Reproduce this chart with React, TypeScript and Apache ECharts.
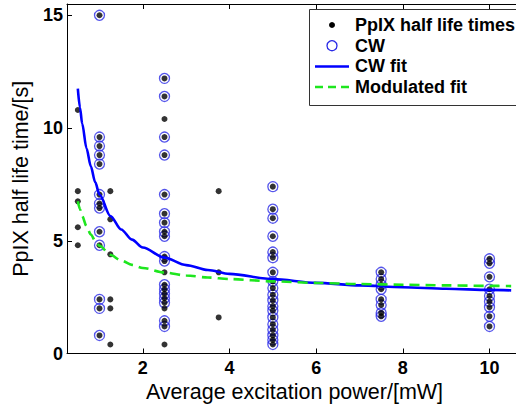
import React, { useEffect, useRef } from "react";
import * as echarts from "echarts";

// Measured PpIX half life times [s] by average excitation power [mW]
const blackOnlyAt0_5 = [10.8, 7.2, 6.75, 5.6, 4.8];
const cwAt1 = [15.0, 9.6, 9.2, 8.8, 8.4, 7.05, 6.65, 6.45, 5.4, 4.8, 2.4, 2.0, 0.8];
const blackOnlyAt1_25 = [7.2, 5.95, 4.4, 2.4, 2.0, 0.4];
const cwAt2_5 = [12.2, 11.4, 9.6, 8.8, 7.05, 6.2, 5.8, 5.4, 5.2, 4.3, 4.1, 3.05, 2.85, 2.65, 2.45, 2.25, 1.45, 1.2];
const blackOnlyAt2_5 = [10.4, 3.6, 2.0, 0.4];
const blackOnlyAt3_75 = [7.2, 3.6, 1.6];
const cwAt5 = [7.4, 6.4, 6.0, 5.2, 4.5, 4.25, 3.6, 3.2, 2.9, 2.6, 2.35, 2.1, 1.9, 1.6, 1.3, 1.05, 0.8, 0.6, 0.4];
const cwAt7_5 = [3.6, 3.3, 3.05, 2.85, 2.4, 2.15, 1.8, 1.65];
const cwAt10 = [4.2, 4.0, 3.4, 2.85, 2.55, 2.3, 2.05, 1.65, 1.2];

// Fit curves
const fitX = [0.5, 0.55, 0.6, 0.7, 0.8, 0.9, 1.0, 1.25, 1.5, 1.75, 2.0, 2.5, 3.0, 3.5, 4.0, 5.0, 6.0, 7.0, 8.0, 9.0, 10.0, 10.5];
const cwFitY = [11.75, 10.9, 10.2, 9.1, 8.3, 7.6, 7.05, 6.1, 5.5, 5.05, 4.7, 4.25, 3.92, 3.7, 3.53, 3.3, 3.13, 3.02, 2.94, 2.87, 2.82, 2.8];
const modFitY = [6.75, 6.4, 6.1, 5.65, 5.28, 5.0, 4.78, 4.38, 4.12, 3.93, 3.79, 3.59, 3.46, 3.37, 3.3, 3.2, 3.13, 3.08, 3.05, 3.02, 3.0, 2.99];

const xTicks = [2, 4, 6, 8, 10];
const yTicks = [0, 5, 10, 15];

const legendNames = ["PpIX half life times", "CW", "CW fit", "Modulated fit"];

const FONT = "'Liberation Sans', Arial, sans-serif";

function pts(x: number, ys: number[]) {
  return ys.map((y) => [x, y]);
}

export default function App() {
  const ref = useRef<HTMLDivElement>(null);
  useEffect(() => {
    if (!ref.current) return;
    const chart = echarts.init(ref.current, undefined, { renderer: "svg" });
    const cwData = [
      ...pts(1, cwAt1),
      ...pts(2.5, cwAt2_5),
      ...pts(5, cwAt5),
      ...pts(7.5, cwAt7_5),
      ...pts(10, cwAt10),
    ];
    const blackData = [
      ...pts(0.5, blackOnlyAt0_5),
      ...pts(1.25, blackOnlyAt1_25),
      ...pts(2.5, blackOnlyAt2_5),
      ...pts(3.75, blackOnlyAt3_75),
      ...cwData,
    ];
    const blue = "#0000ff";
    const ring = "#2a2ae6";
    const green = "#1ee61e";
    const axisCommon = {
      axisLine: { lineStyle: { color: "#000", width: 1 } },
      splitLine: { show: false },
    };
    const legendTop = 25;
    const legendGap = 20.7;
    const mx = 332;
    const graphic: any[] = [
      {
        type: "rect",
        shape: { x: 309.5, y: 9.5, width: 220, height: 96 },
        style: { fill: "#fff", stroke: "#333", lineWidth: 1 },
        z: 100,
      },
      {
        type: "circle",
        shape: { cx: mx, cy: legendTop, r: 3 },
        style: { fill: "#000" },
        z: 101,
      },
      {
        type: "circle",
        shape: { cx: mx, cy: legendTop + legendGap, r: 5 },
        style: { fill: "none", stroke: ring, lineWidth: 1.3 },
        z: 101,
      },
      {
        type: "line",
        shape: { x1: 315, y1: legendTop + 2 * legendGap, x2: 349, y2: legendTop + 2 * legendGap },
        style: { stroke: blue, lineWidth: 2.5 },
        z: 101,
      },
      {
        type: "line",
        shape: { x1: 315, y1: legendTop + 3 * legendGap, x2: 349, y2: legendTop + 3 * legendGap },
        style: { stroke: green, lineWidth: 2.5, lineDash: [8, 5] },
        z: 101,
      },
      ...legendNames.map((n, i) => ({
        type: "text",
        x: 355,
        y: legendTop + i * legendGap,
        style: {
          text: n,
          font: `bold 18px ${FONT}`,
          fill: "#000",
          verticalAlign: "middle",
          align: "left",
        },
        z: 101,
      })),
    ];
    chart.setOption({
      animation: false,
      backgroundColor: "#fff",
      textStyle: { fontFamily: FONT },
      grid: {
        left: 67,
        top: 4,
        width: 455,
        height: 349.5,
        containLabel: false,
        outerBoundsMode: "none",
      },
      xAxis: [
        {
          type: "value",
          min: 0.25,
          max: 10.75,
          ...axisCommon,
          axisTick: { inside: true, length: 5, lineStyle: { color: "#000" }, customValues: xTicks },
          axisLabel: {
            customValues: xTicks,
            color: "#000",
            fontWeight: "bold",
            fontSize: 18,
            fontFamily: FONT,
            margin: 5,
          },
          name: "Average excitation power/[mW]",
          nameLocation: "middle",
          nameGap: 27,
          nameTextStyle: { color: "#000", fontSize: 21.5, fontFamily: FONT },
        },
        {
          type: "value",
          position: "top",
          min: 0.25,
          max: 10.75,
          ...axisCommon,
          axisTick: { inside: true, length: 5, lineStyle: { color: "#000" }, customValues: xTicks },
          axisLabel: { show: false },
        },
      ],
      yAxis: {
        type: "value",
        min: 0,
        max: 15.5,
        ...axisCommon,
        axisTick: { inside: true, length: 5, lineStyle: { color: "#000" }, customValues: yTicks },
        axisLabel: {
          customValues: yTicks,
          color: "#000",
          fontWeight: "bold",
          fontSize: 18,
          fontFamily: FONT,
          margin: 4,
        },
        name: "PpIX half life time/[s]",
        nameLocation: "middle",
        nameGap: 34,
        nameTextStyle: { color: "#000", fontSize: 21.5, fontFamily: FONT },
      },
      series: [
        {
          name: "CW",
          type: "scatter",
          data: cwData,
          symbol: "circle",
          symbolSize: 10,
          itemStyle: { color: "rgba(0,0,0,0)", borderColor: ring, borderWidth: 1.3 },
          z: 2,
        },
        {
          name: "PpIX half life times",
          type: "scatter",
          data: blackData,
          symbol: "circle",
          symbolSize: 6,
          itemStyle: { color: "#000" },
          z: 3,
        },
        {
          name: "CW fit",
          type: "line",
          data: fitX.map((x, i) => [x, cwFitY[i]]),
          showSymbol: false,
          smooth: 0.3,
          smoothMonotone: "x",
          lineStyle: { color: blue, width: 2.6 },
          z: 4,
        },
        {
          name: "Modulated fit",
          type: "line",
          data: fitX.map((x, i) => [x, modFitY[i]]),
          showSymbol: false,
          smooth: 0.3,
          smoothMonotone: "x",
          lineStyle: { color: green, width: 2.6, type: [10, 6] },
          z: 5,
        },
      ],
      graphic,
    });
    return () => chart.dispose();
  }, []);
  return (
    <div
      ref={ref}
      style={{ position: "fixed", left: 0, top: 0, width: 516, height: 405, overflow: "hidden" }}
    />
  );
}
